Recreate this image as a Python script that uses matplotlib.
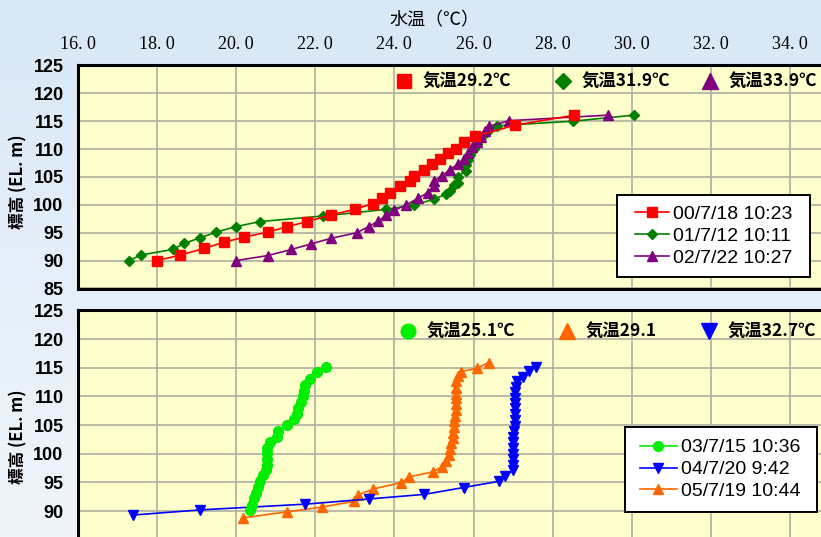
import numpy as np
import matplotlib
matplotlib.use("Agg")
import matplotlib.pyplot as plt
from matplotlib.lines import Line2D
from matplotlib.patches import Rectangle
from matplotlib.colors import LinearSegmentedColormap

JP = ['Noto Sans CJK JP', 'DejaVu Sans']
NUM = ['Liberation Sans Narrow', 'Liberation Sans', 'DejaVu Sans']
plt.rcParams['font.family'] = JP

# ---------------- data ----------------
x_ticks = [16, 18, 20, 22, 24, 26, 28, 30, 32, 34]
x_tick_labels = ["16. 0", "18. 0", "20. 0", "22. 0", "24. 0", "26. 0",
                 "28. 0", "30. 0", "32. 0", "34. 0"]
y_ticks = [85, 90, 95, 100, 105, 110, 115, 120, 125]
y_tick_labels_top = ["85", "90", "95", "100", "105", "110", "115", "120", "125"]
y_tick_labels_bottom = ["", "90", "95", "100", "105", "110", "115", "120", "125"]

# top panel
s00_label = "00/7/18 10:23"
s00_air = "気温29.2℃"
s00_x = [18.0, 18.6, 19.2, 19.7, 20.2, 20.8, 21.3, 21.8, 22.4, 23.0, 23.45, 23.7,
         23.9, 24.15, 24.4, 24.5, 24.75, 24.95, 25.15, 25.35, 25.55, 25.75, 26.05,
         27.05, 28.55]
s00_y = [90, 91, 92.2, 93.3, 94.2, 95.1, 96.1, 97, 98.2, 99.2, 100.2, 101.2,
         102.2, 103.3, 104.3, 105.2, 106.3, 107.3, 108.2, 109.3, 110.1, 111.2, 112.3,
         114.3, 116.1]

s01_label = "01/7/12 10:11"
s01_air = "気温31.9℃"
s01_x = [17.3, 17.6, 18.4, 18.7, 19.1, 19.5, 20.0, 20.6, 22.2, 23.8, 24.5, 25.0,
         25.3, 25.4, 25.5, 25.6, 25.6, 25.8, 25.8, 25.85, 25.9, 26.0, 26.1, 26.2,
         26.35, 26.6, 28.5, 30.05]
s01_y = [90, 91, 92, 93.1, 94.1, 95.1, 96.1, 97, 98, 99.2, 100, 101,
         101.9, 102.5, 103.6, 104, 105, 106.1, 107.2, 108, 109, 110, 111, 112,
         113.1, 114.2, 115, 116.1]

s02_label = "02/7/22 10:27"
s02_air = "気温33.9℃"
s02_x = [20.0, 20.8, 21.4, 21.9, 22.4, 23.05, 23.35, 23.6, 23.8, 24.0, 24.3, 24.6,
         24.85, 25.0, 25.0, 25.2, 25.4, 25.6, 25.75, 25.85, 25.95, 26.1, 26.2, 26.3,
         26.4, 26.9, 29.4]
s02_y = [90, 90.9, 92, 93, 94, 95, 96.1, 97.1, 98.2, 99, 100, 101.2,
         102.2, 103.3, 104.3, 105.2, 106.3, 107.3, 108.2, 109.3, 110.3, 111.2, 112.2, 113.2,
         114.1, 115.1, 116.1]

# bottom panel
s03_label = "03/7/15 10:36"
s03_air = "気温25.1℃"
s03_x = [20.36, 20.40, 20.46, 20.50, 20.55, 20.61, 20.69, 20.76, 20.78, 20.78, 20.78,
         20.79, 20.86, 21.03, 21.07, 21.28, 21.47, 21.55, 21.58, 21.64, 21.69, 21.72,
         21.75, 21.86, 22.06, 22.28]
s03_y = [90.2, 91.0, 92.2, 93.2, 94.2, 95.2, 96.2, 97.1, 98.1, 99.1, 100.1,
         101.0, 102.0, 103.0, 104.0, 105.0, 106.0, 107.0, 108.0, 109.0, 110.0, 110.9,
         111.9, 113.0, 114.2, 115.1]

s04_label = "04/7/20 9:42"
s04_air = "気温32.7℃"
s04_x = [17.4, 19.1, 21.75, 23.35, 24.75, 25.75, 26.65, 26.8, 27.0, 27.0, 27.0, 27.0,
         27.0, 27.0, 27.0, 27.02, 27.05, 27.05, 27.05, 27.05, 27.05, 27.05, 27.05,
         27.07, 27.1, 27.25, 27.4, 27.58]
s04_y = [89.3, 90.2, 91.2, 92.1, 92.9, 94.1, 95.2, 96.1, 97.1, 98.1, 99.1, 100.0,
         101.0, 102.0, 103.0, 104.0, 104.9, 105.9, 106.9, 107.9, 108.8, 109.8, 110.8,
         111.7, 112.7, 113.3, 114.4, 115.2]

s05_label = "05/7/19 10:44"
s05_air = "気温29.1"
s05_x = [20.17, 21.28, 22.18, 22.98, 23.09, 23.47, 24.17, 24.37, 24.98, 25.20, 25.31,
         25.39, 25.41, 25.42, 25.47, 25.49, 25.51, 25.51, 25.54, 25.56, 25.56, 25.56,
         25.57, 25.57, 25.57, 25.62, 25.68, 26.08, 26.38]
s05_y = [88.8, 89.85, 90.7, 91.7, 92.8, 93.85, 94.95, 95.95, 96.85, 97.7, 98.7,
         99.8, 100.8, 101.8, 102.7, 103.7, 104.7, 105.7, 106.6, 107.6, 108.6, 109.7,
         110.5, 111.5, 112.6, 113.6, 114.3, 114.9, 115.9]

x_title = "水温（℃）"
y_title = "標高 (EL. m)"

# ---------------- figure ----------------
W, H = 821, 537
fig = plt.figure(figsize=(W / 100, H / 100), dpi=100)

bg = fig.add_axes([0, 0, 1, 1], zorder=-10)
cmap = LinearSegmentedColormap.from_list('bg', ['#D8E8F6', '#F0F5FB'])
bg.imshow(np.linspace(0, 1, 256).reshape(-1, 1), aspect='auto', cmap=cmap,
          extent=[0, 1, 0, 1], origin='upper')
bg.axis('off')


def rect(left, top, right, bottom):
    return [left / W, 1 - bottom / H, (right - left) / W, (bottom - top) / H]


def fx(px):
    return px / W


def fy(py):
    return 1 - py / H


ax1 = fig.add_axes(rect(77.5, 65.5, 869.5, 288.5))
ax2 = fig.add_axes(rect(77.5, 310.4, 869.5, 539.7))

for ax, ylabels in ((ax1, y_tick_labels_top), (ax2, y_tick_labels_bottom)):
    ax.set_facecolor('#FFFFCC')
    ax.set_xlim(16, 36)
    ax.set_ylim(85, 125)
    ax.set_xticks(x_ticks + [36])
    ax.set_yticks(y_ticks)
    ax.set_yticklabels(ylabels, fontsize=13, fontweight='bold', family=NUM)
    ax.grid(True, color='#B4B4A4', linewidth=1.3)
    ax.set_axisbelow(True)
    for sp in ax.spines.values():
        sp.set_linewidth(2.2)
        sp.set_color('black')
    ax.tick_params(axis='y', length=0, pad=10)
    ax.tick_params(axis='x', length=0)

ax1.xaxis.tick_top()
ax1.set_xticks(x_ticks)
ax1.set_xticklabels(x_tick_labels, fontsize=13, family=['Liberation Serif', 'DejaVu Serif'])
ax1.tick_params(axis='x', pad=9, labeltop=True, labelbottom=False)
ax2.tick_params(axis='x', labelbottom=False, labeltop=False)

lw = 1.2
st00 = dict(color='#FF0000', marker='s', markersize=6.5, linewidth=lw)
st01 = dict(color='#008000', marker='D', markersize=5.5, linewidth=lw)
st02 = dict(color='#800080', marker='^', markersize=7.5, linewidth=lw)
st03 = dict(color='#00EE00', marker='o', markersize=7, linewidth=lw)
st04 = dict(color='#0000FF', marker='v', markersize=7, linewidth=lw)
st05 = dict(color='#FF6600', marker='^', markersize=7.5, linewidth=lw)

ax1.plot(s01_x, s01_y, **st01)
ax1.plot(s02_x, s02_y, **st02)
ax1.plot(s00_x, s00_y, **st00)

ax2.plot(s05_x, s05_y, **st05)
ax2.plot(s04_x, s04_y, **st04)
ax2.plot(s03_x, s03_y, **st03)

# --- air temperature marker rows ---
AIR_FS = 12.5
fs_px = AIR_FS * 100 / 72


def air_legend(color, marker, ms, label, cx, cy):
    h = Line2D([], [], color=color, marker=marker, markersize=ms, linestyle='none')
    fig.legend([h], [label], loc='center left',
               bbox_to_anchor=(fx(cx - fs_px / 2), fy(cy)),
               frameon=False, handlelength=1.0, handletextpad=0.6,
               borderpad=0, borderaxespad=0,
               prop=dict(family=JP, size=AIR_FS, weight='bold'))


air_legend('#FF0000', 's', 10, s00_air, 404, 82)
air_legend('#008000', 'D', 8.5, s01_air, 563, 82)
air_legend('#800080', '^', 11, s02_air, 710, 82)

air_legend('#00EE00', 'o', 10.5, s03_air, 408, 332)
air_legend('#FF6600', '^', 11, s05_air, 567, 332)
air_legend('#0000FF', 'v', 11, s04_air, 709, 332)


# --- boxed date legends ---
def boxed(handles, labels, l, t, r, b, hstart, hl):
    fig.add_artist(Rectangle((fx(l), fy(b)), (r - l) / W, (b - t) / H,
                             transform=fig.transFigure, facecolor='white',
                             edgecolor='black', linewidth=1.4, zorder=4))
    fig.legend(handles, labels, loc='center left',
               bbox_to_anchor=(fx(hstart), fy((t + b) / 2)),
               frameon=False, handlelength=hl, handletextpad=0.22,
               borderpad=0, borderaxespad=0, labelspacing=0.22,
               prop=dict(family=['Liberation Sans', 'DejaVu Sans'], size=14))


boxed([Line2D([], [], **st00), Line2D([], [], **st01), Line2D([], [], **st02)],
      [s00_label, s01_label, s02_label], 617, 195, 810, 277, 635, 1.75)
boxed([Line2D([], [], **st03), Line2D([], [], **st04), Line2D([], [], **st05)],
      [s03_label, s04_label, s05_label], 625, 427, 817, 512, 640, 1.9)

# --- axis titles ---
fig.text(fx(434), fy(20.5), x_title, ha='center', va='center', fontsize=13,
         family=JP)
fig.text(fx(18), fy(182), y_title, ha='center', va='center', rotation=90,
         fontsize=12, fontweight='bold', family=JP)
fig.text(fx(18), fy(437), y_title, ha='center', va='center', rotation=90,
         fontsize=12, fontweight='bold', family=JP)

fig.savefig('out.png', dpi=100)
